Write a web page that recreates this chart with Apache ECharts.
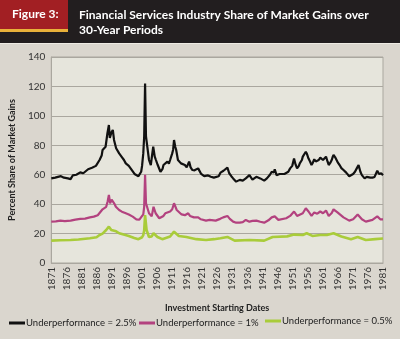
<!DOCTYPE html>
<html><head><meta charset="utf-8">
<script src="https://cdn.jsdelivr.net/npm/echarts@6/dist/echarts.min.js"></script>
<style>html,body{margin:0;padding:0;background:#dad6ce;}#c{width:400px;height:339px;}</style>
</head><body><div id="c"></div>
<script>
const blackYears = [1871.0,1872.3,1873.2,1874.2,1875.2,1876.5,1877.4,1878.1,1879.3,1880.6,1881.6,1882.2,1883.2,1883.8,1884.5,1885.1,1885.8,1886.4,1887.0,1887.7,1888.0,1888.6,1889.0,1889.6,1890.1,1890.4,1890.7,1891.0,1891.4,1891.8,1892.5,1893.0,1893.5,1894.4,1895.1,1895.7,1896.7,1897.3,1897.9,1898.6,1899.2,1899.9,1900.5,1900.8,1901.1,1901.5,1901.8,1902.1,1902.4,1902.9,1903.4,1904.0,1904.8,1905.3,1905.7,1906.3,1907.2,1907.9,1908.2,1908.8,1909.5,1910.0,1910.4,1911.1,1911.4,1911.7,1912.1,1912.4,1913.0,1914.0,1914.6,1915.3,1915.9,1916.7,1917.2,1917.8,1918.5,1919.1,1919.7,1920.7,1921.7,1922.3,1923.0,1923.9,1924.9,1925.5,1926.5,1927.1,1928.1,1928.7,1929.4,1930.0,1930.7,1931.3,1932.3,1932.9,1933.5,1934.5,1935.5,1936.1,1936.7,1937.7,1938.3,1939.0,1939.6,1940.3,1940.9,1941.6,1942.5,1943.5,1944.1,1944.8,1945.1,1945.7,1946.7,1947.3,1948.3,1948.9,1949.6,1950.2,1950.9,1951.5,1952.0,1952.5,1953.1,1953.4,1954.1,1954.4,1955.0,1955.4,1955.8,1956.3,1956.8,1957.3,1957.7,1958.2,1958.7,1959.2,1959.7,1960.2,1960.6,1961.1,1961.6,1962.1,1962.6,1963.0,1963.5,1964.0,1964.3,1964.6,1965.1,1965.6,1966.1,1966.6,1967.2,1967.9,1968.8,1969.8,1970.4,1971.1,1971.7,1972.3,1972.9,1973.5,1974.0,1974.9,1975.6,1976.2,1976.8,1977.5,1978.2,1978.4,1979.1,1979.7,1980.4,1981.0];
const blackValues = [57.5,58,58.5,59,58,57.5,57,59.5,60,61.6,61,61.6,63.7,62.5,64.7,64,66,67,70,73,76.8,77.5,79,88,93.8,85,86,89,90.4,83.6,78,79,74.5,72,70,67.7,66,64.3,63,60.5,60,59,60,62,66,74.5,86,122,86,84.7,70,66.6,79,72.3,70,66.6,62,64,66.6,67,68.9,67.5,70,74.5,77,83.6,79,77,70,67.7,68,66.6,65,68.9,65,63.2,63,62,64.3,60.5,59,58.6,59.5,58.6,58,57.5,59,61.4,62.7,62,64.8,61,59,57.5,55.3,56,56.5,56,57.5,57,59.7,56.7,57,58.6,58,57.5,56.5,56,57.5,60,62,61.5,63.7,59.7,60.5,60.2,60.5,61,62,64.3,66,71,67,64.3,66,67.7,70,72.3,73,75.6,74,71,69,66.6,68,70.5,69,68.9,70,71.6,70.5,70,71,72.3,69,66.6,68,70,72,73.4,72,71,68,66.6,64.5,63.2,61.4,59,59.5,60.5,62,64.3,66.6,62,59.7,57.5,58.5,58.6,58,58,58.5,59,62.7,60.5,61,59.7];

const pinkYears = [1871.0,1872.5,1874.0,1875.5,1877.4,1879.0,1880.6,1882.2,1883.8,1885.1,1886.4,1887.0,1888.0,1889.2,1889.7,1890.1,1890.5,1891.0,1891.4,1892.0,1892.4,1893.5,1894.4,1895.5,1896.7,1898.0,1899.2,1900.2,1900.8,1901.5,1901.8,1902.1,1902.4,1902.9,1903.4,1904.3,1904.9,1905.6,1906.8,1908.2,1908.8,1910.4,1911.1,1911.7,1912.6,1914.2,1915.3,1916.4,1917.0,1918.3,1919.7,1920.6,1922.3,1923.5,1925.5,1927.0,1928.0,1929.4,1930.2,1931.3,1932.3,1933.5,1934.5,1935.5,1936.7,1937.7,1939.0,1940.3,1941.6,1943.0,1944.1,1945.1,1946.3,1948.9,1950.2,1951.5,1952.5,1954.4,1955.4,1956.3,1957.3,1958.2,1959.2,1960.2,1961.1,1962.1,1963.0,1964.0,1964.6,1965.9,1967.9,1969.8,1971.1,1972.6,1974.0,1975.3,1977.5,1979.1,1980.1,1981.0];
const pinkValues = [28.1,28.3,28.8,28.5,28.8,29.5,30,30.2,31,31.5,32.5,33.8,36.5,38.2,42,46.2,40.6,43,44,40,38.2,36,34.9,34,33,31.5,29.7,29.5,29.3,33,38.2,60,40.6,41.7,33.8,31.7,38.2,33.8,30.4,32,33.8,35,36.5,40.6,36,33,32.5,33.8,32,31,31,29.7,28.8,29.3,28.8,30,31,32,30,28.1,27.4,27.4,27.8,29.3,28.1,28.6,28.8,28,27.4,29,31,31.7,29.3,30.4,32,35,32,33.8,37.2,35,32,34.4,33.5,35,33.8,35.6,32,34,36.5,34.4,31,28.8,29.7,33,29.7,28.1,29.3,31.7,29.7,29.7];

const greenYears = [1871.0,1874.0,1877.4,1880.0,1883.8,1886.0,1887.0,1888.0,1889.2,1890.1,1890.9,1891.4,1892.5,1893.5,1895.0,1896.7,1898.5,1899.9,1901.1,1901.5,1901.8,1902.1,1902.6,1903.4,1904.3,1904.9,1906.2,1907.8,1910.4,1911.7,1913.3,1915.8,1919.1,1922.3,1925.0,1927.1,1929.4,1931.8,1936.7,1941.6,1944.4,1949.2,1951.5,1954.4,1955.7,1957.6,1960.2,1962.4,1964.6,1967.2,1970.4,1972.6,1975.3,1978.4,1981.0];
const greenValues = [15.2,15.5,15.6,16,16.8,17.5,19,20,22.4,24.7,22.4,23.5,21.5,20.2,19.3,18.4,17,16.2,17.5,19,22,32.6,22.4,17.7,18.1,20.2,17.7,16.2,18,21.3,18.4,17.7,16.2,15.6,16.2,16.8,17.7,15.2,15.6,15.2,17.7,18.1,19.3,19,20.2,18.4,19,19,20.2,18,16.2,17.7,15.6,16.2,16.6];

const seriesNames = ['Underperformance = 2.5%','Underperformance = 1%','Underperformance = 0.5%'];
const seriesColors = ['#111111','#b3427f','#a9cc3a'];
const yTicks = [0,20,40,60,80,100,120,140];
const startYear = 1871, endYear = 1981;

const pairs = (xs, ys) => xs.map((x,i)=>[x-startYear, ys[i]]);
const chart = echarts.init(document.getElementById('c'), null, {renderer:'canvas'});
const FONT = 'Lato, "Open Sans", sans-serif';
const legendLefts = [9, 139, 265];
const legendTops = [318, 318, 316];
chart.setOption({
  backgroundColor:'#dad6ce',
  animation:false,
  graphic:[
    {type:'rect', shape:{x:0,y:0,width:400,height:43}, style:{fill:'#221e1f'}},
    {type:'rect', shape:{x:0,y:43,width:400,height:1}, style:{fill:'#eeebe4'}},
    {type:'rect', shape:{x:0,y:0,width:68,height:29}, style:{fill:'#a21f23'}},
    {type:'rect', shape:{x:0,y:29,width:68,height:3}, style:{fill:'#e9b13a'}},
    {type:'text', left:12, top:8, style:{text:'Figure 3:', fill:'#fff', font:'bold 12px '+FONT}},
    {type:'text', left:79, top:8, style:{text:'Financial Services Industry Share of Market Gains over\n30-Year Periods', fill:'#fff', font:'bold 12px '+FONT, lineHeight:15}}
  ],
  legend: seriesNames.map((n,i)=>({
    left:legendLefts[i], top:legendTops[i], padding:0, itemWidth:16, itemHeight:3, icon:'rect',
    textStyle:{fontFamily:FONT, fontSize:9.5, color:'#222', padding:[0,0,0,-4]},
    data:[n]
  })),
  grid:{left:40, right:17, top:57, bottom:76, show:true, backgroundColor:'#e6e5dc', borderColor:'#aaa79f', borderWidth:1},
  xAxis:{
    type:'value', min:0, max:endYear-startYear, interval:5,
    name:'Investment Starting Dates', nameLocation:'middle', nameGap:41,
    nameTextStyle:{fontFamily:FONT, fontWeight:'bold', fontSize:9, color:'#222'},
    axisLine:{show:true, lineStyle:{color:'#aaa79f'}}, axisTick:{show:false}, splitLine:{show:false},
    axisLabel:{rotate:90, fontFamily:FONT, fontSize:10, color:'#333', margin:4, formatter:v=>String(v+startYear)}
  },
  yAxis:{
    type:'value', min:yTicks[0], max:yTicks[yTicks.length-1], interval:20,
    name:'Percent Share of Market Gains', nameLocation:'middle', nameGap:26,
    nameTextStyle:{fontFamily:FONT, fontWeight:'bold', fontSize:9, color:'#222'},
    axisLine:{show:true, lineStyle:{color:'#aaa79f'}}, axisTick:{show:false},
    splitLine:{lineStyle:{color:'#aaa79f', width:1.2}},
    axisLabel:{fontFamily:FONT, fontSize:10, color:'#333', margin:6}
  },
  series:[
    {name:seriesNames[2], type:'line', data:pairs(greenYears,greenValues), showSymbol:false, color:seriesColors[2], lineStyle:{width:2.6}, z:2},
    {name:seriesNames[1], type:'line', data:pairs(pinkYears,pinkValues), showSymbol:false, color:seriesColors[1], lineStyle:{width:2.2}, z:3},
    {name:seriesNames[0], type:'line', data:pairs(blackYears,blackValues), showSymbol:false, color:seriesColors[0], lineStyle:{width:2.2}, z:4}
  ]
});
</script></body></html>
